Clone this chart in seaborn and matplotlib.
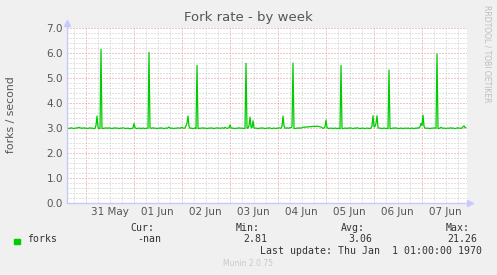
import matplotlib
matplotlib.use("Agg")
import matplotlib.pyplot as plt
import seaborn as sns
import pandas as pd
import numpy as np

# ---- data (30-minute samples) ----
start_time = "2021-05-30 14:45"
sample_step = "30min"
forks = [
    3.00, 3.01, 2.99, 3.00, 3.02, 3.01, 3.00, 2.99, 3.00, 3.01, 3.02, 3.01, 3.04, 3.02, 3.01, 3.00, 3.01, 3.02, 3.00, 3.01,
    3.00, 2.99, 3.01, 3.02, 3.00, 3.01, 3.00, 2.99, 3.00, 3.12, 3.49, 3.05, 2.98, 3.00, 6.16, 3.00, 2.99, 3.01, 3.00, 3.02,
    3.01, 3.00, 3.02, 3.01, 3.00, 2.99, 3.01, 3.00, 3.02, 3.01, 3.00, 3.01, 2.99, 3.00, 3.01, 3.00, 3.02, 3.01, 3.00, 2.99,
    3.00, 3.01, 2.99, 2.98, 3.00, 2.99, 3.02, 3.19, 3.03, 3.00, 2.99, 3.00, 3.01, 3.00, 2.99, 3.00, 3.01, 3.00, 2.99, 3.00,
    3.00, 3.01, 6.04, 3.02, 3.00, 3.01, 3.02, 3.00, 3.01, 3.00, 2.99, 3.00, 3.01, 3.00, 3.02, 3.01, 3.00, 2.99, 3.00, 3.01,
    3.00, 3.02, 3.05, 3.01, 3.00, 3.01, 3.00, 2.99, 3.00, 3.01, 3.00, 3.02, 3.01, 3.00, 3.02, 3.04, 3.01, 3.00, 3.02, 3.10,
    3.20, 3.49, 3.08, 3.00, 3.01, 3.00, 2.99, 3.00, 3.01, 2.99, 5.52, 3.00, 2.99, 3.01, 3.00, 3.01, 3.02, 3.00, 3.01, 3.00,
    2.99, 3.00, 3.01, 3.00, 3.02, 3.01, 3.00, 2.99, 3.01, 3.00, 3.02, 3.01, 3.00, 3.01, 3.00, 3.02, 3.01, 3.00, 3.04, 3.01,
    3.00, 3.01, 3.02, 3.13, 3.02, 3.00, 3.01, 3.00, 2.99, 3.00, 3.01, 3.00, 3.02, 3.01, 3.00, 3.01, 3.00, 2.99, 3.00, 5.60,
    3.00, 3.01, 3.10, 3.45, 3.05, 3.02, 3.30, 3.02, 3.00, 3.01, 3.00, 2.99, 3.00, 3.01, 3.00, 3.02, 3.01, 3.00, 2.99, 3.00,
    3.01, 3.00, 3.02, 3.01, 3.00, 2.99, 3.00, 3.01, 3.00, 2.99, 3.01, 3.00, 3.02, 3.01, 3.00, 3.08, 3.49, 3.10, 3.01, 3.00,
    3.02, 3.01, 3.00, 3.03, 3.02, 3.06, 5.61, 3.00, 2.99, 3.00, 3.01, 3.00, 3.02, 3.01, 3.00, 3.03, 3.04, 3.05, 3.04, 3.05,
    3.06, 3.05, 3.06, 3.07, 3.06, 3.07, 3.08, 3.07, 3.08, 3.07, 3.09, 3.08, 3.07, 3.06, 3.05, 3.02, 3.00, 3.01, 3.05, 3.33,
    3.04, 3.00, 2.99, 3.00, 3.01, 3.00, 2.99, 3.00, 3.01, 3.00, 2.99, 3.00, 3.00, 2.98, 5.52, 3.00, 2.99, 3.00, 3.01, 3.00,
    3.00, 3.01, 3.00, 3.02, 3.01, 3.00, 2.99, 3.00, 3.01, 3.00, 3.02, 3.01, 3.00, 2.99, 3.00, 3.01, 3.00, 3.00, 2.99, 3.00,
    3.01, 3.00, 3.00, 2.99, 3.01, 3.10, 3.50, 3.06, 3.08, 3.20, 3.50, 3.04, 3.00, 3.01, 3.00, 2.99, 3.00, 3.01, 3.00, 2.99,
    3.00, 2.99, 5.33, 3.00, 2.99, 3.00, 3.01, 3.00, 3.02, 3.01, 3.00, 3.00, 2.99, 3.00, 3.01, 3.00, 2.99, 3.00, 3.01, 3.00,
    3.00, 3.01, 3.00, 2.99, 3.00, 3.01, 3.00, 2.99, 3.00, 3.01, 3.00, 3.02, 3.01, 3.06, 3.20, 3.12, 3.53, 3.08, 3.01, 3.00,
    3.00, 3.01, 3.00, 2.99, 3.00, 3.01, 3.00, 3.02, 3.01, 3.00, 5.97, 3.00, 2.99, 3.01, 3.04, 3.01, 3.00, 3.01, 3.00, 2.99,
    3.00, 3.01, 3.00, 3.01, 3.02, 3.00, 3.01, 3.00, 2.99, 3.00, 3.01, 3.02, 3.00, 3.01, 3.00, 3.01, 3.06, 3.10, 3.03, 3.02,
]
day_labels = ["31 May", "01 Jun", "02 Jun", "03 Jun", "04 Jun", "05 Jun", "06 Jun", "07 Jun"]
first_day = "2021-05-31"
y_ticks = [0.0, 1.0, 2.0, 3.0, 4.0, 5.0, 6.0, 7.0]
series_name = "forks"
stat_names = ["Cur:", "Min:", "Avg:", "Max:"]
stat_values = ["-nan", "2.81", "3.06", "21.26"]
title = "Fork rate - by week"
ylabel = "forks / second"
last_update = "Last update: Thu Jan  1 01:00:00 1970"
footer = "Munin 2.0.75"
side_text = "RRDTOOL / TOBI OETIKER"

times = pd.date_range(start_time, periods=len(forks), freq=sample_step)
df = pd.DataFrame({"time": times, "value": forks})

sns.set_theme(style="white")
plt.rcParams["font.family"] = ["DejaVu Sans"]

W, H = 497, 275
fig = plt.figure(figsize=(W / 100, H / 100), dpi=100, facecolor="#F0F0F0")
ax = fig.add_axes([67 / W, 1 - 203.3 / H, 400 / W, 175 / H])
ax.set_facecolor("white")

x0 = times[0]
x1 = times[0] + pd.Timedelta(hours=200)
ax.set_xlim(x0, x1)
ax.set_ylim(0, 7.0)

minor_c = "#C8C8C8"
major_c = "#E09090"
dot = (0, (1, 2))
# horizontal grid
for v in np.arange(0, 7.01, 0.2):
    is_major = abs(v - round(v)) < 1e-6
    ax.axhline(v, color=major_c if is_major else minor_c, lw=0.72, ls=dot, zorder=1)
# vertical grid
d0 = pd.Timestamp(first_day)
tt = d0 - pd.Timedelta(hours=18)
while tt <= x1:
    if tt >= x0:
        is_major = tt.hour == 0
        ax.axvline(tt, color=major_c if is_major else minor_c, lw=0.72, ls=dot, zorder=1)
    tt += pd.Timedelta(hours=6)

sns.lineplot(data=df, x="time", y="value", ax=ax, color="#00CC00", lw=0.9, zorder=3, legend=False)

for s in ax.spines.values():
    s.set_visible(False)

axis_c = "#C8C8FF"
ax.plot([0, 1.0075], [0, 0], transform=ax.transAxes, color=axis_c, lw=1.0, clip_on=False, zorder=4)
ax.plot([0, 0], [0, 1.03], transform=ax.transAxes, color=axis_c, lw=1.0, clip_on=False, zorder=4)
ax.plot([1.0075], [0], transform=ax.transAxes, marker=">", ms=4.5, color=axis_c, clip_on=False, zorder=4)
ax.plot([0], [1.03], transform=ax.transAxes, marker="^", ms=4.5, color=axis_c, clip_on=False, zorder=4)

txt_c = "#555555"
ax.set_yticks(y_ticks)
ax.set_yticklabels([f"{v:.1f}" for v in y_ticks], fontsize=7.5, color=txt_c)
noons = [d0 + pd.Timedelta(days=k, hours=12) for k in range(len(day_labels))]
ax.set_xticks(noons)
ax.set_xticklabels(day_labels, fontsize=7.5, color=txt_c)
ax.tick_params(axis="both", length=0, pad=3)
ax.set_xlabel("")
ax.set_ylabel("")

fig.text(248 / W, 1 - 18 / H, title, ha="center", va="center", fontsize=9.5, color=txt_c)
fig.text(11 / W, 1 - 115 / H, ylabel, ha="center", va="center", rotation=90, fontsize=7.8, color=txt_c)
fig.text(487 / W, 1 - 5 / H, side_text, ha="center", va="top", rotation=270, fontsize=5.5, color="#BEBEBE")

mono = "DejaVu Sans Mono"
fs = 7.1
fig.patches.append(plt.Rectangle((14 / W, 1 - 244 / H), 5.5 / W, 5.5 / H, transform=fig.transFigure,
                                 color="#00CC00", figure=fig))
fig.text(27 / W, 1 - 239.5 / H, series_name, ha="left", va="center", fontsize=fs, family=mono, color="#333333")
name_right = [154, 260, 365, 470]
val_right = [161, 267, 372, 477]
for n, v, nr, vr in zip(stat_names, stat_values, name_right, val_right):
    fig.text(nr / W, 1 - 228 / H, n, ha="right", va="center", fontsize=fs, family=mono, color="#333333")
    fig.text(vr / W, 1 - 239.5 / H, v, ha="right", va="center", fontsize=fs, family=mono, color="#333333")
fig.text(482.5 / W, 1 - 251 / H, last_update, ha="right", va="center", fontsize=fs, family=mono, color="#333333")
fig.text(248 / W, 1 - 264 / H, footer, ha="center", va="center", fontsize=5.5, color="#C8C8C8")

fig.savefig("out.png", dpi=100, facecolor=fig.get_facecolor())
